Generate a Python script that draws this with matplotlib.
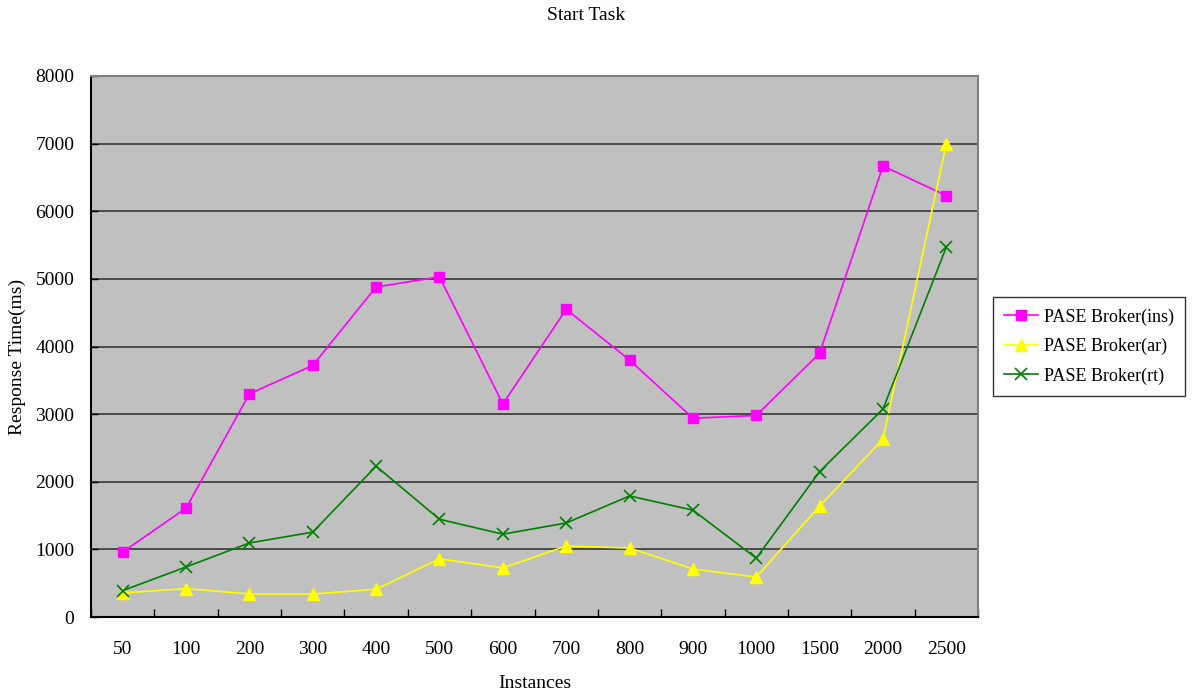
import matplotlib
matplotlib.use("Agg")
import matplotlib.pyplot as plt
from matplotlib.ticker import FixedLocator, NullFormatter

categories = ["50", "100", "200", "300", "400", "500", "600", "700", "800", "900",
              "1000", "1500", "2000", "2500"]
ins_values = [960, 1610, 3300, 3720, 4880, 5030, 3150, 4550, 3800, 2940, 2980, 3900, 6670, 6230]
ar_values = [355, 420, 340, 340, 410, 860, 725, 1050, 1020, 710, 590, 1640, 2630, 7000]
rt_values = [390, 740, 1095, 1255, 2230, 1445, 1225, 1390, 1790, 1580, 870, 2150, 3075, 5470]
y_ticks = [0, 1000, 2000, 3000, 4000, 5000, 6000, 7000, 8000]

plt.rcParams['font.family'] = ['Liberation Serif', 'DejaVu Serif']
FS = 14

fig = plt.figure(figsize=(11.94, 6.99), dpi=100)
ax = fig.add_axes([91/1194, 1-617/699, 887/1194, 541/699])
ax.set_facecolor('#C0C0C0')

x = list(range(len(categories)))
ax.plot(x, ins_values, color='#FF00FF', lw=1.2, marker='s', ms=7.5, mec='#FF00FF',
        label='PASE Broker(ins)', zorder=3)
ax.plot(x, ar_values, color='#FFFF00', lw=1.2, marker='^', ms=8, mec='#FFFF00',
        label='PASE Broker(ar)', zorder=3)
ax.plot(x, rt_values, color='#008000', lw=1.2, marker='x', ms=8, mew=1.2,
        label='PASE Broker(rt)', zorder=3)

ax.set_xlim(-0.5, len(categories) - 0.5)
ax.set_ylim(0, 8000)
ax.set_yticks(y_ticks)
ax.set_yticklabels([str(v) for v in y_ticks], fontsize=FS)
for v in y_ticks[1:-1]:
    ax.axhline(v, color='#2a2a2a', lw=1.1, zorder=1)

ax.set_xticks(x)
ax.set_xticklabels(categories, fontsize=FS)
ax.tick_params(axis='x', which='major', length=0, pad=17)
ax.xaxis.set_minor_locator(FixedLocator([i - 0.5 for i in range(len(categories) + 1)]))
ax.xaxis.set_minor_formatter(NullFormatter())
ax.tick_params(axis='x', which='minor', direction='in', length=6, width=1.0, color='black')
ax.tick_params(axis='y', which='major', direction='in', length=5, width=1.0, pad=12)

for s in ['left', 'bottom']:
    ax.spines[s].set_color('black')
    ax.spines[s].set_linewidth(1.5)
for s in ['top', 'right']:
    ax.spines[s].set_color('#808080')
    ax.spines[s].set_linewidth(1.5)

ax.set_xlabel('Instances', fontsize=FS, va='center')
ax.xaxis.set_label_coords(0.5, -(684-617)/541)
ax.set_ylabel('Response Time(ms)', fontsize=FS, va='center')
ax.yaxis.set_label_coords(-(91-17)/887, 0.48)
fig.text(586/1194, 1-15/699, 'Start Task', ha='center', va='center', fontsize=FS)

leg = ax.legend(loc='center left', bbox_to_anchor=(993/1194, 1-346.5/699),
                bbox_transform=fig.transFigure, prop={'size': 13}, frameon=True,
                fancybox=False, edgecolor='black', borderpad=0.6,
                handlelength=1.9, handletextpad=0.35, labelspacing=0.68,
                borderaxespad=0)
leg.get_frame().set_linewidth(1.0)
leg.get_frame().set_facecolor('white')

fig.savefig('out.png', dpi=100)
